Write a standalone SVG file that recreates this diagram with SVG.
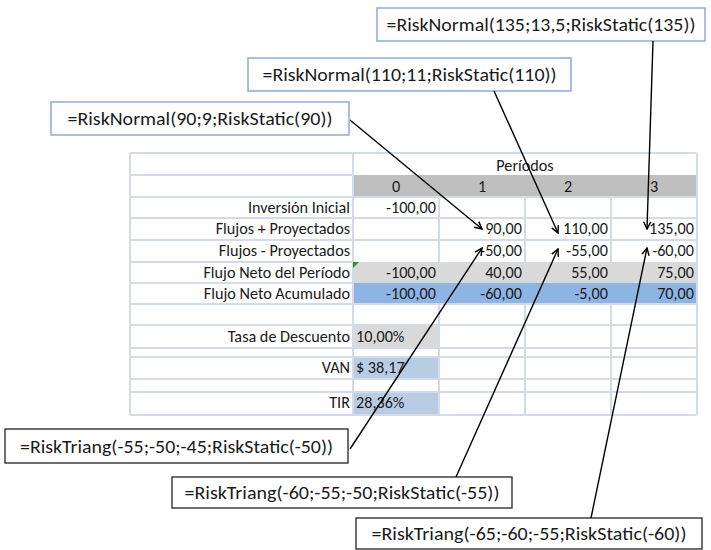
<svg xmlns="http://www.w3.org/2000/svg" width="711" height="550" viewBox="0 0 711 550">
<style>
.grid{stroke:#d4dbe8;stroke-width:2;fill:none}
.t{font-family:Carlito,Lato,"Liberation Sans",sans-serif;font-size:16.2px;fill:#1a1a1a}
.r{text-anchor:end}
.c{text-anchor:middle}
.cb{font-family:Carlito,Lato,"Liberation Sans",sans-serif;font-size:18.5px;fill:#1a1a1a;text-anchor:middle}
.bn{fill:#fff;stroke:#8eaadb;stroke-width:1.5}
.bt{fill:#fff;stroke:#222;stroke-width:1.3}
.conn{stroke:#000;stroke-width:1.4;fill:none;marker-end:url(#ah)}
</style>
<defs>
<marker id="ah" viewBox="0 0 10 10" refX="9" refY="5" markerWidth="9" markerHeight="9" markerUnits="userSpaceOnUse" orient="auto">
<path d="M1,1 L9,5 L1,9" fill="none" stroke="#000" stroke-width="1.6"/>
</marker>
</defs>
<rect width="711" height="550" fill="#fff"/>
<g id="table">
<rect x="353" y="175" width="344" height="22" fill="#bfbfbf"/>
<rect x="353" y="262" width="344" height="21" fill="#d9d9d9"/>
<rect x="353" y="283" width="344" height="21" fill="#8db4e2"/>
<rect x="353" y="325" width="86" height="23" fill="#d9d9d9"/>
<rect x="353" y="357" width="86" height="22" fill="#b8cce4"/>
<rect x="353" y="392" width="86" height="23" fill="#b8cce4"/>
<path class="grid" d="M130,153H697 M130,175H353 M130,197H697 M130,218H697 M130,240H697 M130,262H353 M130,283H353 M130,304H697 M130,325H697 M130,348H697 M130,357H697 M130,379H697 M130,392H697 M130,415H697"/>
<path class="grid" d="M130,153V415 M353,153V415 M697,153V415 M439,197V262 M525,197V262 M611,197V262 M439,304V415 M525,304V415 M611,304V415"/>
<path d="M353,262 L359,262 L353,268 Z" fill="#1e9a2e"/>
<text class="t c" x="525" y="171">Períodos</text>
<text class="t c" x="396" y="192">0</text>
<text class="t c" x="482" y="192">1</text>
<text class="t c" x="568" y="192">2</text>
<text class="t c" x="654" y="192">3</text>
<text class="t r" x="350" y="213">Inversión Inicial</text>
<text class="t r" x="350" y="234">Flujos + Proyectados</text>
<text class="t r" x="350" y="256">Flujos - Proyectados</text>
<text class="t r" x="350" y="278">Flujo Neto del Período</text>
<text class="t r" x="350" y="299">Flujo Neto Acumulado</text>
<text class="t r" x="350" y="342">Tasa de Descuento</text>
<text class="t r" x="350" y="373">VAN</text>
<text class="t r" x="350" y="408">TIR</text>
<text class="t r" x="436" y="213">-100,00</text>
<text class="t r" x="522" y="234">90,00</text>
<text class="t r" x="608" y="234">110,00</text>
<text class="t r" x="694" y="234">135,00</text>
<text class="t r" x="522" y="256">-50,00</text>
<text class="t r" x="608" y="256">-55,00</text>
<text class="t r" x="694" y="256">-60,00</text>
<text class="t r" x="436" y="278">-100,00</text>
<text class="t r" x="522" y="278">40,00</text>
<text class="t r" x="608" y="278">55,00</text>
<text class="t r" x="694" y="278">75,00</text>
<text class="t r" x="436" y="299">-100,00</text>
<text class="t r" x="522" y="299">-60,00</text>
<text class="t r" x="608" y="299">-5,00</text>
<text class="t r" x="694" y="299">70,00</text>
<text class="t" x="356" y="342">10,00%</text>
<text class="t" x="356" y="373">$ 38,17</text>
<text class="t" x="356" y="408">28,36%</text>
</g>
<g id="n135"><rect class="bn" x="377" y="8" width="328" height="33"/><text class="cb" x="541" y="31" textLength="309" lengthAdjust="spacingAndGlyphs">=RiskNormal(135;13,5;RiskStatic(135))</text></g>
<g id="n110"><rect class="bn" x="248" y="58" width="323" height="33"/><text class="cb" x="409.5" y="81" textLength="294" lengthAdjust="spacingAndGlyphs">=RiskNormal(110;11;RiskStatic(110))</text></g>
<g id="n90"><rect class="bn" x="51" y="102" width="298" height="33"/><text class="cb" x="200" y="125" textLength="265" lengthAdjust="spacingAndGlyphs">=RiskNormal(90;9;RiskStatic(90))</text></g>
<g id="t50"><rect class="bt" x="5" y="429" width="343" height="34"/><text class="cb" x="176.5" y="452.5" textLength="313" lengthAdjust="spacingAndGlyphs">=RiskTriang(-55;-50;-45;RiskStatic(-50))</text></g>
<g id="t55"><rect class="bt" x="172" y="477" width="340" height="31"/><text class="cb" x="342" y="499" textLength="315" lengthAdjust="spacingAndGlyphs">=RiskTriang(-60;-55;-50;RiskStatic(-55))</text></g>
<g id="t60"><rect class="bt" x="356" y="518" width="346" height="31"/><text class="cb" x="529" y="540" textLength="315" lengthAdjust="spacingAndGlyphs">=RiskTriang(-65;-60;-55;RiskStatic(-60))</text></g>
<g id="connectors">
<line class="conn" x1="350" y1="120" x2="482" y2="229"/>
<line class="conn" x1="494" y1="91" x2="558" y2="233"/>
<line class="conn" x1="653" y1="41" x2="647" y2="229"/>
<line class="conn" x1="350" y1="449" x2="482" y2="248"/>
<line class="conn" x1="456" y1="477" x2="558" y2="249"/>
<line class="conn" x1="591" y1="518" x2="647" y2="248"/>
</g>
</svg>
